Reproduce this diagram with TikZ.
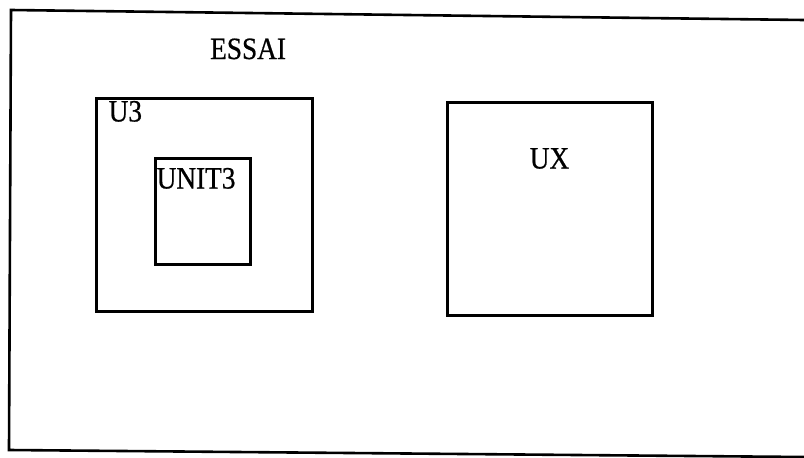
\documentclass[tikz,border=0pt]{standalone}
\usepackage{fontspec}
\setmainfont{Liberation Serif}
\newfontfamily\printfont[FakeStretch=0.88, FakeBold=0.6]{Liberation Serif}
\usetikzlibrary{positioning}

\begin{document}
\begin{tikzpicture}[x=1pt, y=-1pt,
  unitbox/.style={rectangle, draw, line width=3pt, inner sep=0pt},
  unitlbl/.style={font=\printfont\fontsize{31}{33}\selectfont, inner sep=0pt}]
\useasboundingbox (0,0) rectangle (804,458);

% outer frame, open on the right
\draw[line width=2.6pt] (804,20) -- (11,10) -- (9,450) -- (804,457);

\node[unitlbl, anchor=base west] (essai) at (210,59) {ESSAI};

\node[unitbox, minimum width=216pt, minimum height=213pt] (u3) at (204,204.5) {};
\node[unitlbl, anchor=base west] (u3lbl) at ([xshift=14pt, yshift=-25pt]u3.north west) {U3};

\node[unitbox, minimum width=95pt, minimum height=106pt] (unit3) at (202.5,211) {};
\node[unitlbl, anchor=base west] (unit3lbl) at ([xshift=3pt, yshift=-32pt]unit3.north west) {UNIT3};

\node[unitbox, minimum width=205pt, minimum height=213pt] (ux) at (549.5,208.5) {};
\node[unitlbl, anchor=base] (uxlbl) at ([yshift=-68pt]ux.north) {UX};

\end{tikzpicture}
\end{document}
